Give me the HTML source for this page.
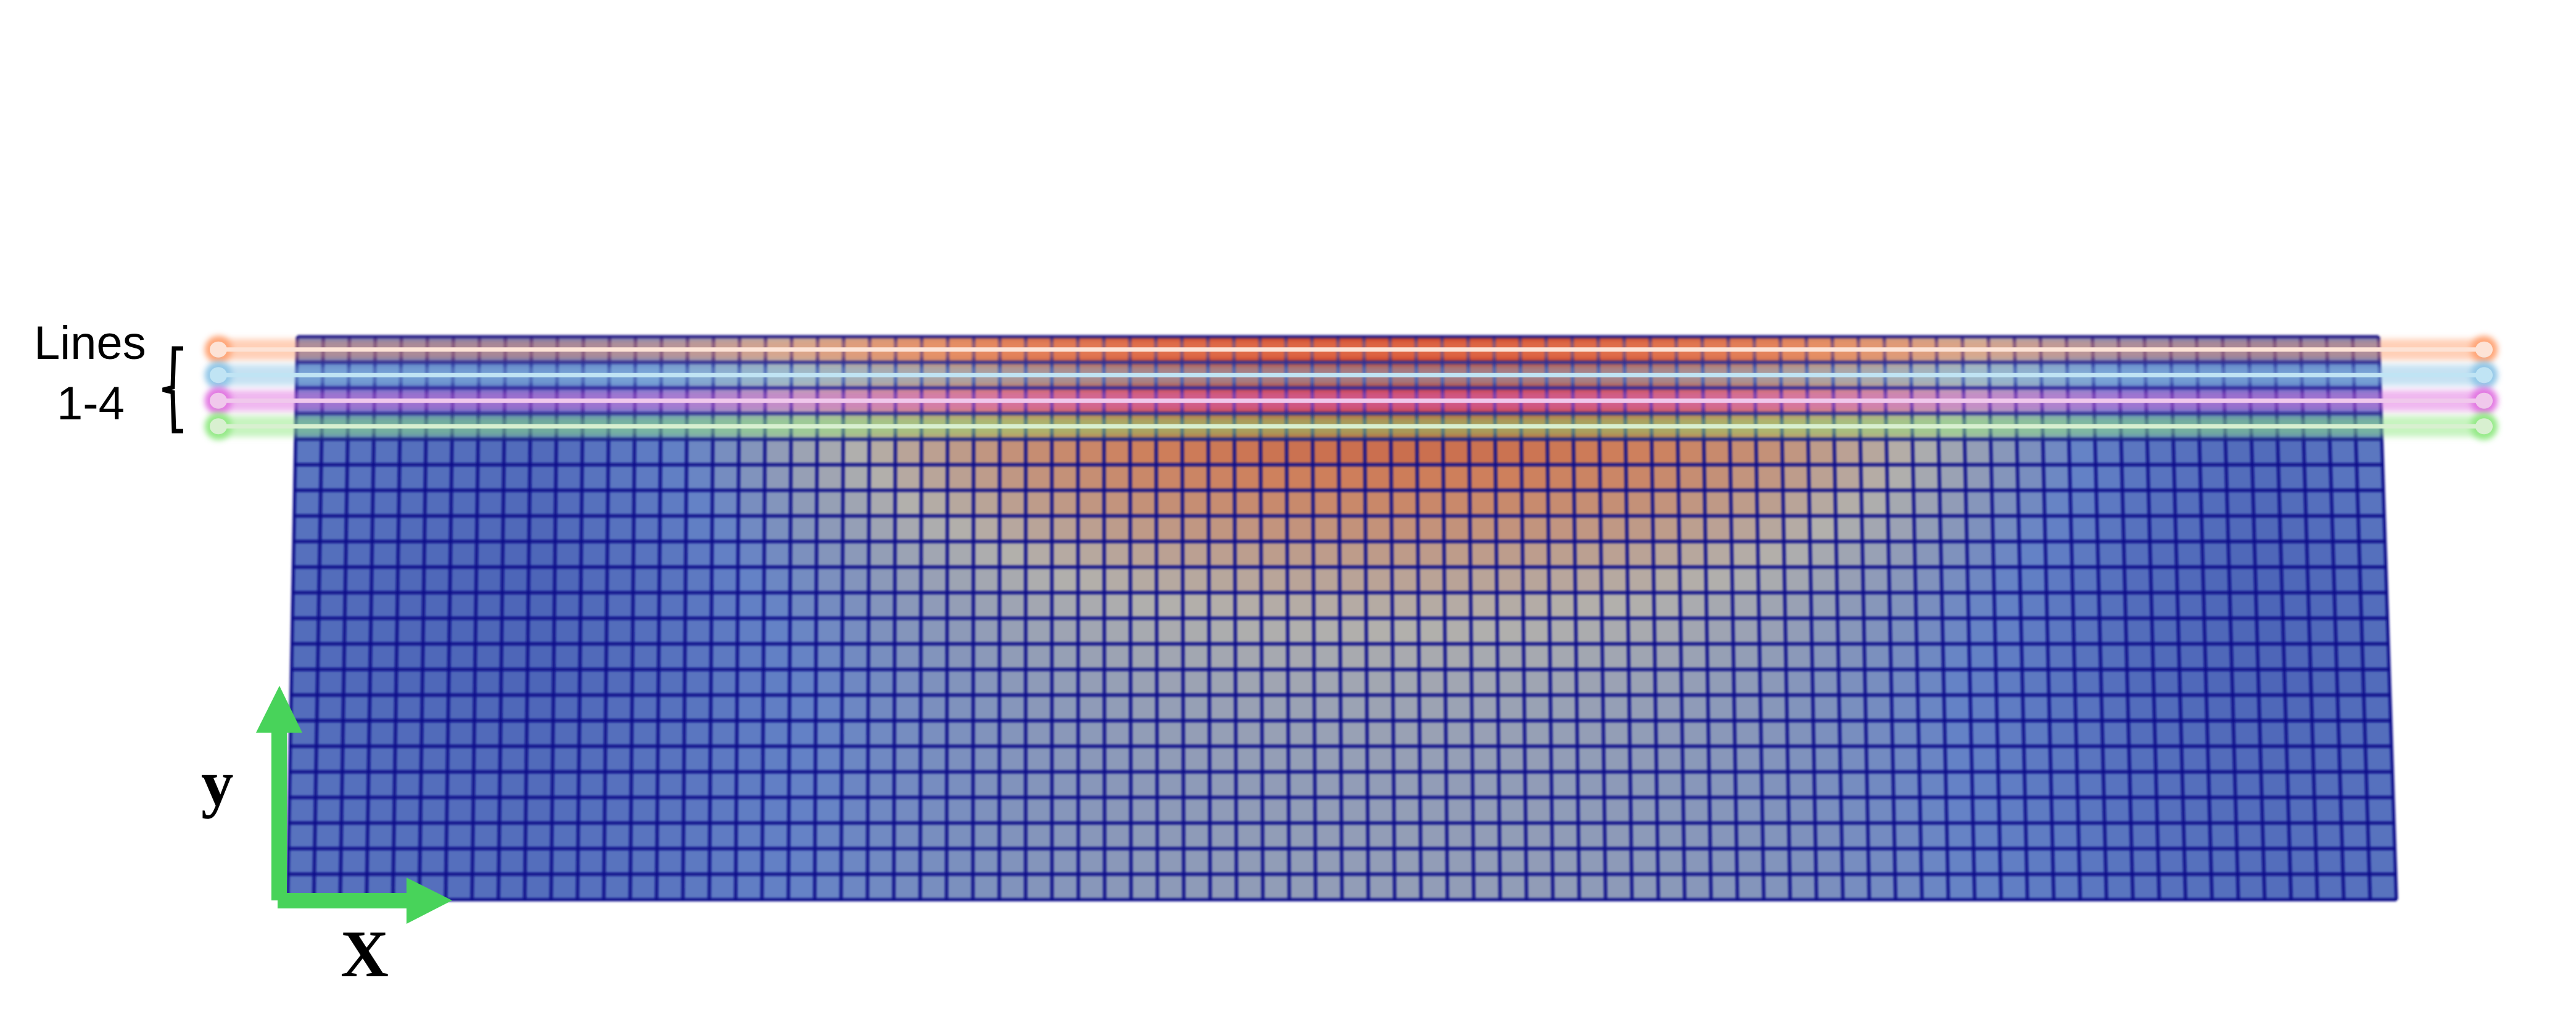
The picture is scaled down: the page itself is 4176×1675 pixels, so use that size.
<!DOCTYPE html>
<html><head><meta charset="utf-8"><style>
html,body{margin:0;padding:0;background:#fff;}
svg{display:block;}
.mono{font-family:"Liberation Serif",serif;font-weight:bold;}
.sans{font-family:"Liberation Sans",sans-serif;}
</style></head><body>
<svg id="fig" width="4176" height="1675" viewBox="0 0 4176 1675" xmlns="http://www.w3.org/2000/svg">
<defs>
<filter id="glow" filterUnits="userSpaceOnUse" x="0" y="400" width="4176" height="500"><feGaussianBlur stdDeviation="5"/></filter>
<filter id="soft" filterUnits="userSpaceOnUse" x="400" y="500" width="3600" height="1000"><feGaussianBlur stdDeviation="1.8"/></filter>
</defs>
<g id="mesh"></g>
<g id="gridlines" filter="url(#soft)"></g>
<g id="lines"></g>
<text class="sans" x="55" y="582" font-size="76">Lines</text>
<text class="sans" x="92" y="680" font-size="76">1-4</text>
<path d="M297 565 L282 565 L280 628 L264 632 L280 636 L282 699 L297 699" fill="none" stroke="#000" stroke-width="7"/>
<g fill="#48d35a">
<rect x="440" y="1186" width="25" height="274"/>
<polygon points="415,1188 490,1188 453,1112"/>
<rect x="450" y="1448" width="211" height="25"/>
<polygon points="659,1423 659,1498 733,1460"/>
</g>
<text class="mono" x="326" y="1305" font-size="105">y</text>
<text class="mono" x="552" y="1583" font-size="108">X</text>
</svg>
<script>
// field data
const nCols = 80;
const rowCenter = [1.0,0.98,0.95,0.9,0.8,0.76,0.71,0.66,0.61,0.57,0.53,0.5,0.47,0.45,0.43,0.42,0.41,0.4,0.4,0.4,0.4,0.4];
const rowEdge = [0.14,0.14,0.14,0.14,0.12,0.12,0.11,0.1,0.09,0.08,0.08,0.08,0.08,0.08,0.09,0.1,0.11,0.12,0.12,0.13,0.13,0.13];
const colKnots = [0.1,0.02,-0.02,0.15,0.42,0.65,0.82,0.93,0.98,1.0,0.98,0.92,0.8,0.6,0.34,0.08,-0.02,0.1];
const probeNames = ['line-1','line-2','line-3','line-4'];
const probeRows = [0,1,2,3];
const probeGlow = ['#ffa070','#8cc4e6','#e070e0','#8ee880'];
const probeCore = ['#fde3d6','#c0e4f4','#f0c8ec','#d8f0d0'];

const NS='http://www.w3.org/2000/svg';
const nRows = rowCenter.length;
const meshTop=546, meshBot=1459, lt=482, lb=466, rt=3856, rb=3885;
const yOf = r => meshTop + (meshBot-meshTop)*r/nRows;
const xOf = (c,y) => { const f=(y-meshTop)/(meshBot-meshTop); const L=lt+(lb-lt)*f, R=rt+(rb-rt)*f; return L+(R-L)*c/nCols; };
function bump(u){ const p=u*(colKnots.length-1); const i=Math.min(Math.floor(p),colKnots.length-2); const t=p-i; return colKnots[i]*(1-t)+colKnots[i+1]*t; }
const stops=[[0,[68,90,178]],[0.25,[100,130,198]],[0.5,[178,176,172]],[0.75,[206,128,92]],[1,[188,40,22]]];
function cmap(v){ v=Math.max(0,Math.min(1,v)); for(let i=0;i<stops.length-1;i++){ if(v<=stops[i+1][0]){ const t=(v-stops[i][0])/(stops[i+1][0]-stops[i][0]); const a=stops[i][1],b=stops[i+1][1]; return 'rgb('+a.map((x,k)=>Math.round(x+(b[k]-x)*t)).join(',')+')'; } } return 'rgb(188,40,22)'; }

const mesh=document.getElementById('mesh');
for(let r=0;r<nRows;r++){
  const y0=yOf(r), y1=yOf(r+1);
  for(let c=0;c<nCols;c++){
    const u=(c+0.5)/nCols;
    const v=rowEdge[r]+(rowCenter[r]-rowEdge[r])*bump(u);
    const p=document.createElementNS(NS,'polygon');
    p.setAttribute('points',[xOf(c,y0),y0,xOf(c+1,y0),y0,xOf(c+1,y1),y1,xOf(c,y1),y1].join(' '));
    p.setAttribute('fill',cmap(v));
    p.setAttribute('stroke',cmap(v));
    p.setAttribute('stroke-width','0.6');
    
    
    mesh.appendChild(p);
  }
}
const gl=document.getElementById('gridlines');
let d='';
for(let r=0;r<=nRows;r++){ const y=yOf(r); d+='M'+xOf(0,y)+' '+y+'L'+xOf(nCols,y)+' '+y; }
for(let c=0;c<=nCols;c++){ d+='M'+xOf(c,meshTop)+' '+meshTop+'L'+xOf(c,meshBot)+' '+meshBot; }
const gp=document.createElementNS(NS,'path');
gp.setAttribute('d',d); gp.setAttribute('stroke','#10108a'); gp.setAttribute('stroke-width','5'); gp.setAttribute('fill','none');


gl.appendChild(gp);

const lg=document.getElementById('lines');
const x0=354, x1=4027;
probeRows.forEach((r,i)=>{
  const y=(yOf(r)+yOf(r+1))/2;
  const g=document.createElementNS(NS,'g');
  
  
  const band=document.createElementNS(NS,'path');
  band.setAttribute('d','M'+x0+' '+y+'L'+x1+' '+y);
  band.setAttribute('stroke',probeGlow[i]); band.setAttribute('stroke-width','34'); band.setAttribute('stroke-linecap','round');
  band.setAttribute('opacity','0.5'); band.setAttribute('filter','url(#glow)');
  
  
  g.appendChild(band);
  [x0,x1].forEach(x=>{
    const h=document.createElementNS(NS,'circle');
    h.setAttribute('cx',x); h.setAttribute('cy',y); h.setAttribute('r','22'); h.setAttribute('fill',probeGlow[i]); h.setAttribute('filter','url(#glow)'); h.setAttribute('opacity','0.9');
    
    
    g.appendChild(h);
  });
  const core=document.createElementNS(NS,'line');
  core.setAttribute('x1',x0); core.setAttribute('x2',x1); core.setAttribute('y1',y); core.setAttribute('y2',y);
  core.setAttribute('stroke',probeCore[i]); core.setAttribute('stroke-width','7');
  
  
  g.appendChild(core);
  [x0,x1].forEach(x=>{
    const e=document.createElementNS(NS,'ellipse');
    e.setAttribute('cx',x); e.setAttribute('cy',y); e.setAttribute('rx','14'); e.setAttribute('ry','13'); e.setAttribute('fill',probeCore[i]);
    
    
    g.appendChild(e);
  });
  lg.appendChild(g);
});
</script>
</body></html>
